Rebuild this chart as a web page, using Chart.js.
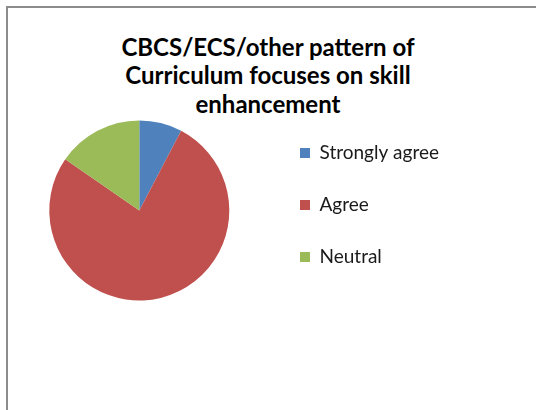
<!DOCTYPE html>
<html>
<head>
<meta charset="utf-8">
<script src="https://cdn.jsdelivr.net/npm/chart.js@4/dist/chart.umd.min.js"></script>
<style>
    html, body { margin: 0; padding: 0; background: #fff; overflow: hidden; }
    #wrap { position: relative; width: 536px; height: 410px; }
    #frame {
        position: absolute; left: 6px; top: 6px; width: 600px; height: 500px;
        border-left: 2px solid #8c8c8c; border-top: 2px solid #8c8c8c;
    }
    #chart-title {
        position: absolute; left: 0; top: 33px; width: 536px;
        text-align: center; font-family: Lato, sans-serif; font-weight: bold;
        font-size: 24px; line-height: 28.3px; color: #000;
    }
    #pie-chart { position: absolute; left: 0; top: 0; }
</style>
</head>
<body>
<div id="wrap">
    <div id="frame"></div>
    <div id="chart-title"></div>
    <canvas id="pie-chart" width="536" height="410"></canvas>
</div>
<script>
const titleLines = ['CBCS/ECS/other pattern of', 'Curriculum focuses on skill', 'enhancement'];
const categories = ['Strongly agree', 'Agree', 'Neutral'];
const responses = [5, 50, 10];
const sliceColors = ['#4F81BD', '#C0504D', '#9BBB59'];

document.addEventListener('DOMContentLoaded', function () {
    const titleEl = document.getElementById('chart-title');
    titleEl.innerHTML = titleLines.join('<br>');

    Chart.defaults.font.family = 'Lato, sans-serif';

    const legendFontSize = 19;
    const legendGap = 33;
    const boxSize = 10;
    const legendLeft = 267;

    // legend width as Chart.js works it out, so the legend box starts where we want it
    const ctx = document.getElementById('pie-chart');
    const c2d = ctx.getContext('2d');
    c2d.font = `${legendFontSize}px Lato, sans-serif`;
    const widest = Math.max(...categories.map(t => c2d.measureText(t).width));
    const legendWidth = legendGap + boxSize + legendFontSize / 2 + widest + 10;
    const padRight = 536 - legendLeft - legendWidth;

    new Chart(ctx, {
        type: 'pie',
        data: {
            labels: categories,
            datasets: [{
                data: responses,
                backgroundColor: sliceColors,
                borderWidth: 0,
                hoverOffset: 0,
                radius: 90
            }]
        },
        options: {
            responsive: false,
            animation: false,
            layout: {
                padding: { left: 11.6, right: padRight, top: 110.5, bottom: 99.5 }
            },
            plugins: {
                title: { display: false },
                tooltip: { enabled: false },
                legend: {
                    position: 'right',
                    align: 'start',
                    labels: {
                        boxWidth: boxSize,
                        boxHeight: boxSize,
                        padding: legendGap,
                        color: '#1a1a1a',
                        font: { size: legendFontSize }
                    }
                }
            }
        }
    });
});
</script>
</body>
</html>
